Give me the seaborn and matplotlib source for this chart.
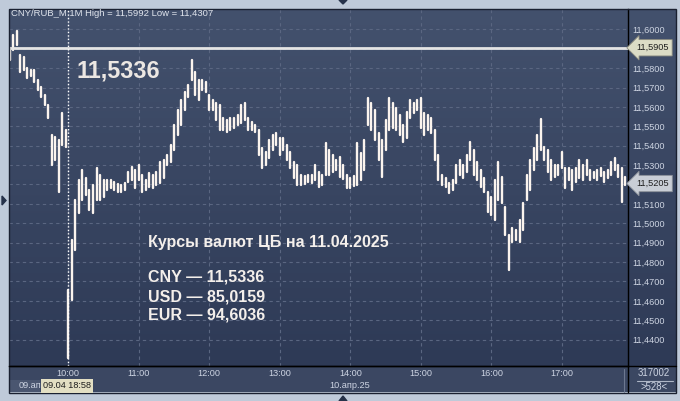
import numpy as np
import pandas as pd
import seaborn as sns
import matplotlib.pyplot as plt
from matplotlib.lines import Line2D
from matplotlib.patches import Rectangle, Polygon
from matplotlib.colors import LinearSegmentedColormap
from matplotlib.transforms import blended_transform_factory

# minutes from 10:00 (10.04); negative = tail of the 09.04 session
prev_t = list(range(-50, 0, 3))
prev_hi = [11.5904, 11.5970, 11.5992, 11.5868, 11.5858, 11.5801, 11.5790, 11.5790, 11.5739,
           11.5703, 11.5661, 11.5610, 11.5455, 11.5445, 11.5429, 11.5568, 11.5481]
prev_lo = [11.5842, 11.5893, 11.5919, 11.5780, 11.5790, 11.5749, 11.5759, 11.5728, 11.5687,
           11.5651, 11.5610, 11.5543, 11.5300, 11.5326, 11.5162, 11.5404, 11.5393]

day_t = list(range(0, 475, 3))
day_hi = [
    # 10:00
    11.4657, 11.4914, 11.5120, 11.5223, 11.5275, 11.5233, 11.5172, 11.5197, 11.5285, 11.5249,
    11.5223, 11.5223, 11.5223, 11.5213, 11.5203, 11.5197, 11.5207, 11.5264, 11.5290, 11.5275,
    # 11:00
    11.5300, 11.5249, 11.5223, 11.5259, 11.5249, 11.5264, 11.5316, 11.5326, 11.5352, 11.5404,
    11.5507, 11.5584, 11.5636, 11.5677, 11.5713, 11.5842, 11.5780, 11.5739, 11.5739, 11.5728,
    # 12:00
    11.5661, 11.5636, 11.5620, 11.5610, 11.5543, 11.5532, 11.5543, 11.5543, 11.5558, 11.5610,
    11.5620, 11.5543, 11.5522, 11.5507, 11.5481, 11.5388, 11.5368, 11.5429, 11.5455, 11.5465,
    # 13:00
    11.5440, 11.5440, 11.5404, 11.5368, 11.5316, 11.5300, 11.5249, 11.5244, 11.5249, 11.5249,
    11.5300, 11.5264, 11.5249, 11.5414, 11.5378, 11.5352, 11.5326, 11.5342, 11.5300, 11.5249,
    # 14:00
    11.5233, 11.5244, 11.5414, 11.5363, 11.5429, 11.5646, 11.5620, 11.5584, 11.5465, 11.5429,
    11.5532, 11.5646, 11.5620, 11.5594, 11.5558, 11.5507, 11.5574, 11.5636, 11.5620, 11.5636,
    # 15:00
    11.5646, 11.5568, 11.5558, 11.5543, 11.5481, 11.5352, 11.5249, 11.5233, 11.5207, 11.5223,
    11.5300, 11.5326, 11.5300, 11.5352, 11.5419, 11.5378, 11.5316, 11.5275, 11.5233, 11.5162,
    # 16:00
    11.5136, 11.5223, 11.5316, 11.5239, 11.5084, 11.4940, 11.4976, 11.4965, 11.5017, 11.5105,
    11.5249, 11.5326, 11.5388, 11.5455, 11.5538, 11.5393, 11.5378, 11.5326, 11.5300, 11.5300,
    # 17:00
    11.5368, 11.5285, 11.5285, 11.5275, 11.5285, 11.5326, 11.5300, 11.5326, 11.5275, 11.5264,
    11.5275, 11.5285, 11.5264, 11.5275, 11.5316, 11.5337, 11.5300, 11.5285, 11.5239,
]
day_lo = [
    11.4307, 11.4604, 11.4862, 11.5053, 11.5120, 11.5146, 11.5068, 11.5053, 11.5120, 11.5120,
    11.5136, 11.5172, 11.5182, 11.5172, 11.5162, 11.5162, 11.5172, 11.5213, 11.5223, 11.5182,
    11.5223, 11.5162, 11.5172, 11.5187, 11.5182, 11.5197, 11.5207, 11.5233, 11.5300, 11.5316,
    11.5378, 11.5455, 11.5507, 11.5584, 11.5651, 11.5739, 11.5661, 11.5636, 11.5687, 11.5677,
    11.5584, 11.5584, 11.5532, 11.5481, 11.5481, 11.5471, 11.5481, 11.5491, 11.5507, 11.5517,
    11.5532, 11.5481, 11.5481, 11.5471, 11.5352, 11.5285, 11.5300, 11.5337, 11.5378, 11.5404,
    11.5352, 11.5378, 11.5326, 11.5285, 11.5233, 11.5197, 11.5197, 11.5203, 11.5213, 11.5207,
    11.5223, 11.5187, 11.5197, 11.5249, 11.5249, 11.5264, 11.5275, 11.5239, 11.5228, 11.5182,
    11.5182, 11.5192, 11.5197, 11.5223, 11.5275, 11.5507, 11.5481, 11.5429, 11.5326, 11.5239,
    11.5378, 11.5481, 11.5491, 11.5481, 11.5455, 11.5419, 11.5440, 11.5543, 11.5568, 11.5584,
    11.5491, 11.5455, 11.5481, 11.5466, 11.5326, 11.5223, 11.5197, 11.5187, 11.5156, 11.5172,
    11.5207, 11.5249, 11.5233, 11.5264, 11.5326, 11.5249, 11.5223, 11.5187, 11.5162, 11.5058,
    11.5043, 11.5017, 11.5120, 11.5105, 11.4940, 11.4759, 11.4904, 11.4914, 11.4904, 11.4965,
    11.5120, 11.5172, 11.5275, 11.5326, 11.5378, 11.5326, 11.5264, 11.5223, 11.5239, 11.5249,
    11.5285, 11.5182, 11.5223, 11.5172, 11.5213, 11.5233, 11.5223, 11.5249, 11.5223, 11.5233,
    11.5223, 11.5244, 11.5213, 11.5233, 11.5249, 11.5275, 11.5239, 11.5110, 11.5197,
]

hour_pos = [0, 60, 120, 180, 240, 300, 360, 420]
hour_labels = ['10:00', '11:00', '12:00', '13:00', '14:00', '15:00', '16:00', '17:00']
price_ticks = [11.44, 11.45, 11.46, 11.47, 11.48, 11.49, 11.50, 11.51,
               11.52, 11.53, 11.54, 11.55, 11.56, 11.57, 11.58, 11.59, 11.60]
hidden_ticks = [11.52, 11.59]  # covered by the price tags
level_price = 11.5905
last_price = 11.5205

t_all = prev_t + day_t
df = pd.DataFrame({'t': t_all, 'hi': prev_hi + day_hi, 'lo': prev_lo + day_lo})
df['bar'] = range(len(df))
bars = df.melt(id_vars=['bar', 't'], value_vars=['lo', 'hi'], value_name='price')

sns.set_theme(style='dark')
plt.rcParams['font.family'] = ['Liberation Sans', 'DejaVu Sans']

W, H = 680, 401
def fx(px):
    return px / W
def fy(py):
    return 1 - py / H

fig = plt.figure(figsize=(6.8, 4.01), dpi=100, facecolor='#bfcad9')

# gradient panel behind plot and price scale
grad = LinearSegmentedColormap.from_list('g', ['#2e3a56', '#43516d'])
bg = fig.add_axes([fx(9), fy(366), fx(676) - fx(9), (366 - 9) / H])
bg.imshow(np.linspace(0, 1, 256).reshape(-1, 1)[::-1], cmap=grad, aspect='auto',
          extent=[0, 1, 0, 1])
bg.set_axis_off()

strip = fig.add_axes([fx(9), fy(392), fx(676) - fx(9), 26 / H])
strip.set_facecolor('#3b4762')
strip.set_xticks([])
strip.set_yticks([])
for s in strip.spines.values():
    s.set_visible(False)
strip.add_patch(Rectangle((0, 0), 31 / 667, 12 / 26, transform=strip.transAxes,
                          color='#4a5670', lw=0))

ax = fig.add_axes([fx(9), fy(366), fx(628) - fx(9), (366 - 9) / H])
ax.set_facecolor('none')

sns.lineplot(data=bars, x='t', y='price', units='bar', estimator=None, sort=False,
             color='#fbf4ee', linewidth=1.7, ax=ax, legend=False, zorder=4)

ax.set_xlim(-50.5, 476.3)
ax.set_ylim(11.4264, 11.6105)
ax.set_xlabel('')
ax.set_ylabel('')

ax.set_xticks(hour_pos)
ax.set_xticklabels(hour_labels)
ax.set_yticks(price_ticks)
ax.set_yticklabels(['' if v in hidden_ticks else f'{v:.4f}'.replace('.', ',')
                    for v in price_ticks])
ax.yaxis.tick_right()
ax.tick_params(axis='y', length=0, pad=3, labelsize=6.6, labelcolor='#cdd4e2')
ax.tick_params(axis='x', length=0, pad=2.5, labelsize=6.6, labelcolor='#cdd4e2')
ax.grid(True, color='#5a6681', linestyle=(0, (3, 3)), linewidth=0.8)
for name, s in ax.spines.items():
    s.set_visible(name in ('right', 'bottom'))
    s.set_color('black')
    s.set_linewidth(1)

ax.axhline(level_price, color='#e4e4e4', lw=2.0, zorder=5)
ax.axvline(-0.5, color='white', lw=1, ls=(0, (1, 1.5)), zorder=5)

yt = blended_transform_factory(fig.transFigure, ax.transData)
ax.text(fx(636), level_price, '11,5905', transform=yt, fontsize=6.6, color='#1e1e1e',
        va='center', ha='left', zorder=6,
        bbox=dict(boxstyle='larrow,pad=0.4', fc='#dcdcc6', ec='#8c8c80', lw=0.6))
ax.text(fx(636), last_price, '11,5205', transform=yt, fontsize=6.6, color='#1e1e1e',
        va='center', ha='left', zorder=6,
        bbox=dict(boxstyle='larrow,pad=0.4', fc='#c9ced6', ec='#8a8f98', lw=0.6))

# texts
fig.text(fx(11), fy(14), 'CNY/RUB_M 1M High = 11,5992 Low = 11,4307', fontsize=6.8,
         color='#e0e4ec', va='center', ha='left')
fig.text(fx(77), fy(71), '11,5336', fontsize=16.8, fontweight='bold', color='#ece7e3',
         va='center', ha='left')
fig.text(fx(148), fy(242), 'Курсы валют ЦБ на 11.04.2025', fontsize=11.5, fontweight='bold',
         color='#f4efeb', va='center', ha='left')
for yy, line in zip([277, 297, 315], ['CNY — 11,5336', 'USD — 85,0159', 'EUR — 94,6036']):
    fig.text(fx(148), fy(yy), line, fontsize=11.5, fontweight='bold', color='#f4efeb',
             va='center', ha='left')

fig.text(fx(19), fy(386), '09.ап', fontsize=6.6, color='#cdd4e2', va='center', ha='left')
fig.text(fx(43), fy(386), '09.04 18:58', fontsize=6.6, color='#1e1e1e', va='center', ha='left',
         bbox=dict(boxstyle='square,pad=0.25', fc='#e3dfc3', ec='none'))
fig.text(fx(350), fy(386), '10.апр.25', fontsize=6.6, color='#cdd4e2', va='center', ha='center')
fig.text(fx(654), fy(373), '317002', fontsize=6.9, color='#cdd4e2', va='center', ha='center')
fig.text(fx(654), fy(387), '>528<', fontsize=6.9, color='#cdd4e2', va='center', ha='center')

# frame lines and small widgets
tf = fig.transFigure
fig.add_artist(Line2D([fx(637), fx(673)], [fy(380.5)] * 2, color='#aeb6c6', lw=0.8, transform=tf))
fig.add_artist(Line2D([fx(624)] * 2, [fy(369), fy(392)], color='#6d7890', lw=0.8, transform=tf))
fig.add_artist(Line2D([fx(628)] * 2, [fy(366), fy(392)], color='black', lw=1, transform=tf))
fig.add_artist(Line2D([fx(9), fx(676)], [fy(366)] * 2, color='black', lw=1, transform=tf))
fig.add_artist(Rectangle((fx(8.5), fy(392.5)), fx(676) - fx(8.5), (392.5 - 8.5) / H,
                         fill=False, ec='#1a2030', lw=1, transform=tf))
fig.add_artist(Polygon([[fx(339), fy(0)], [fx(347), fy(0)], [fx(343), fy(4)]],
                       closed=True, color='#26324a', transform=tf))
fig.add_artist(Polygon([[fx(339), fy(401)], [fx(347), fy(401)], [fx(343), fy(396)]],
                       closed=True, color='#26324a', transform=tf))
fig.add_artist(Polygon([[fx(2), fy(196)], [fx(2), fy(205)], [fx(6), fy(200.5)]],
                       closed=True, color='#26324a', transform=tf))

fig.savefig('out.png', dpi=100, facecolor=fig.get_facecolor())
